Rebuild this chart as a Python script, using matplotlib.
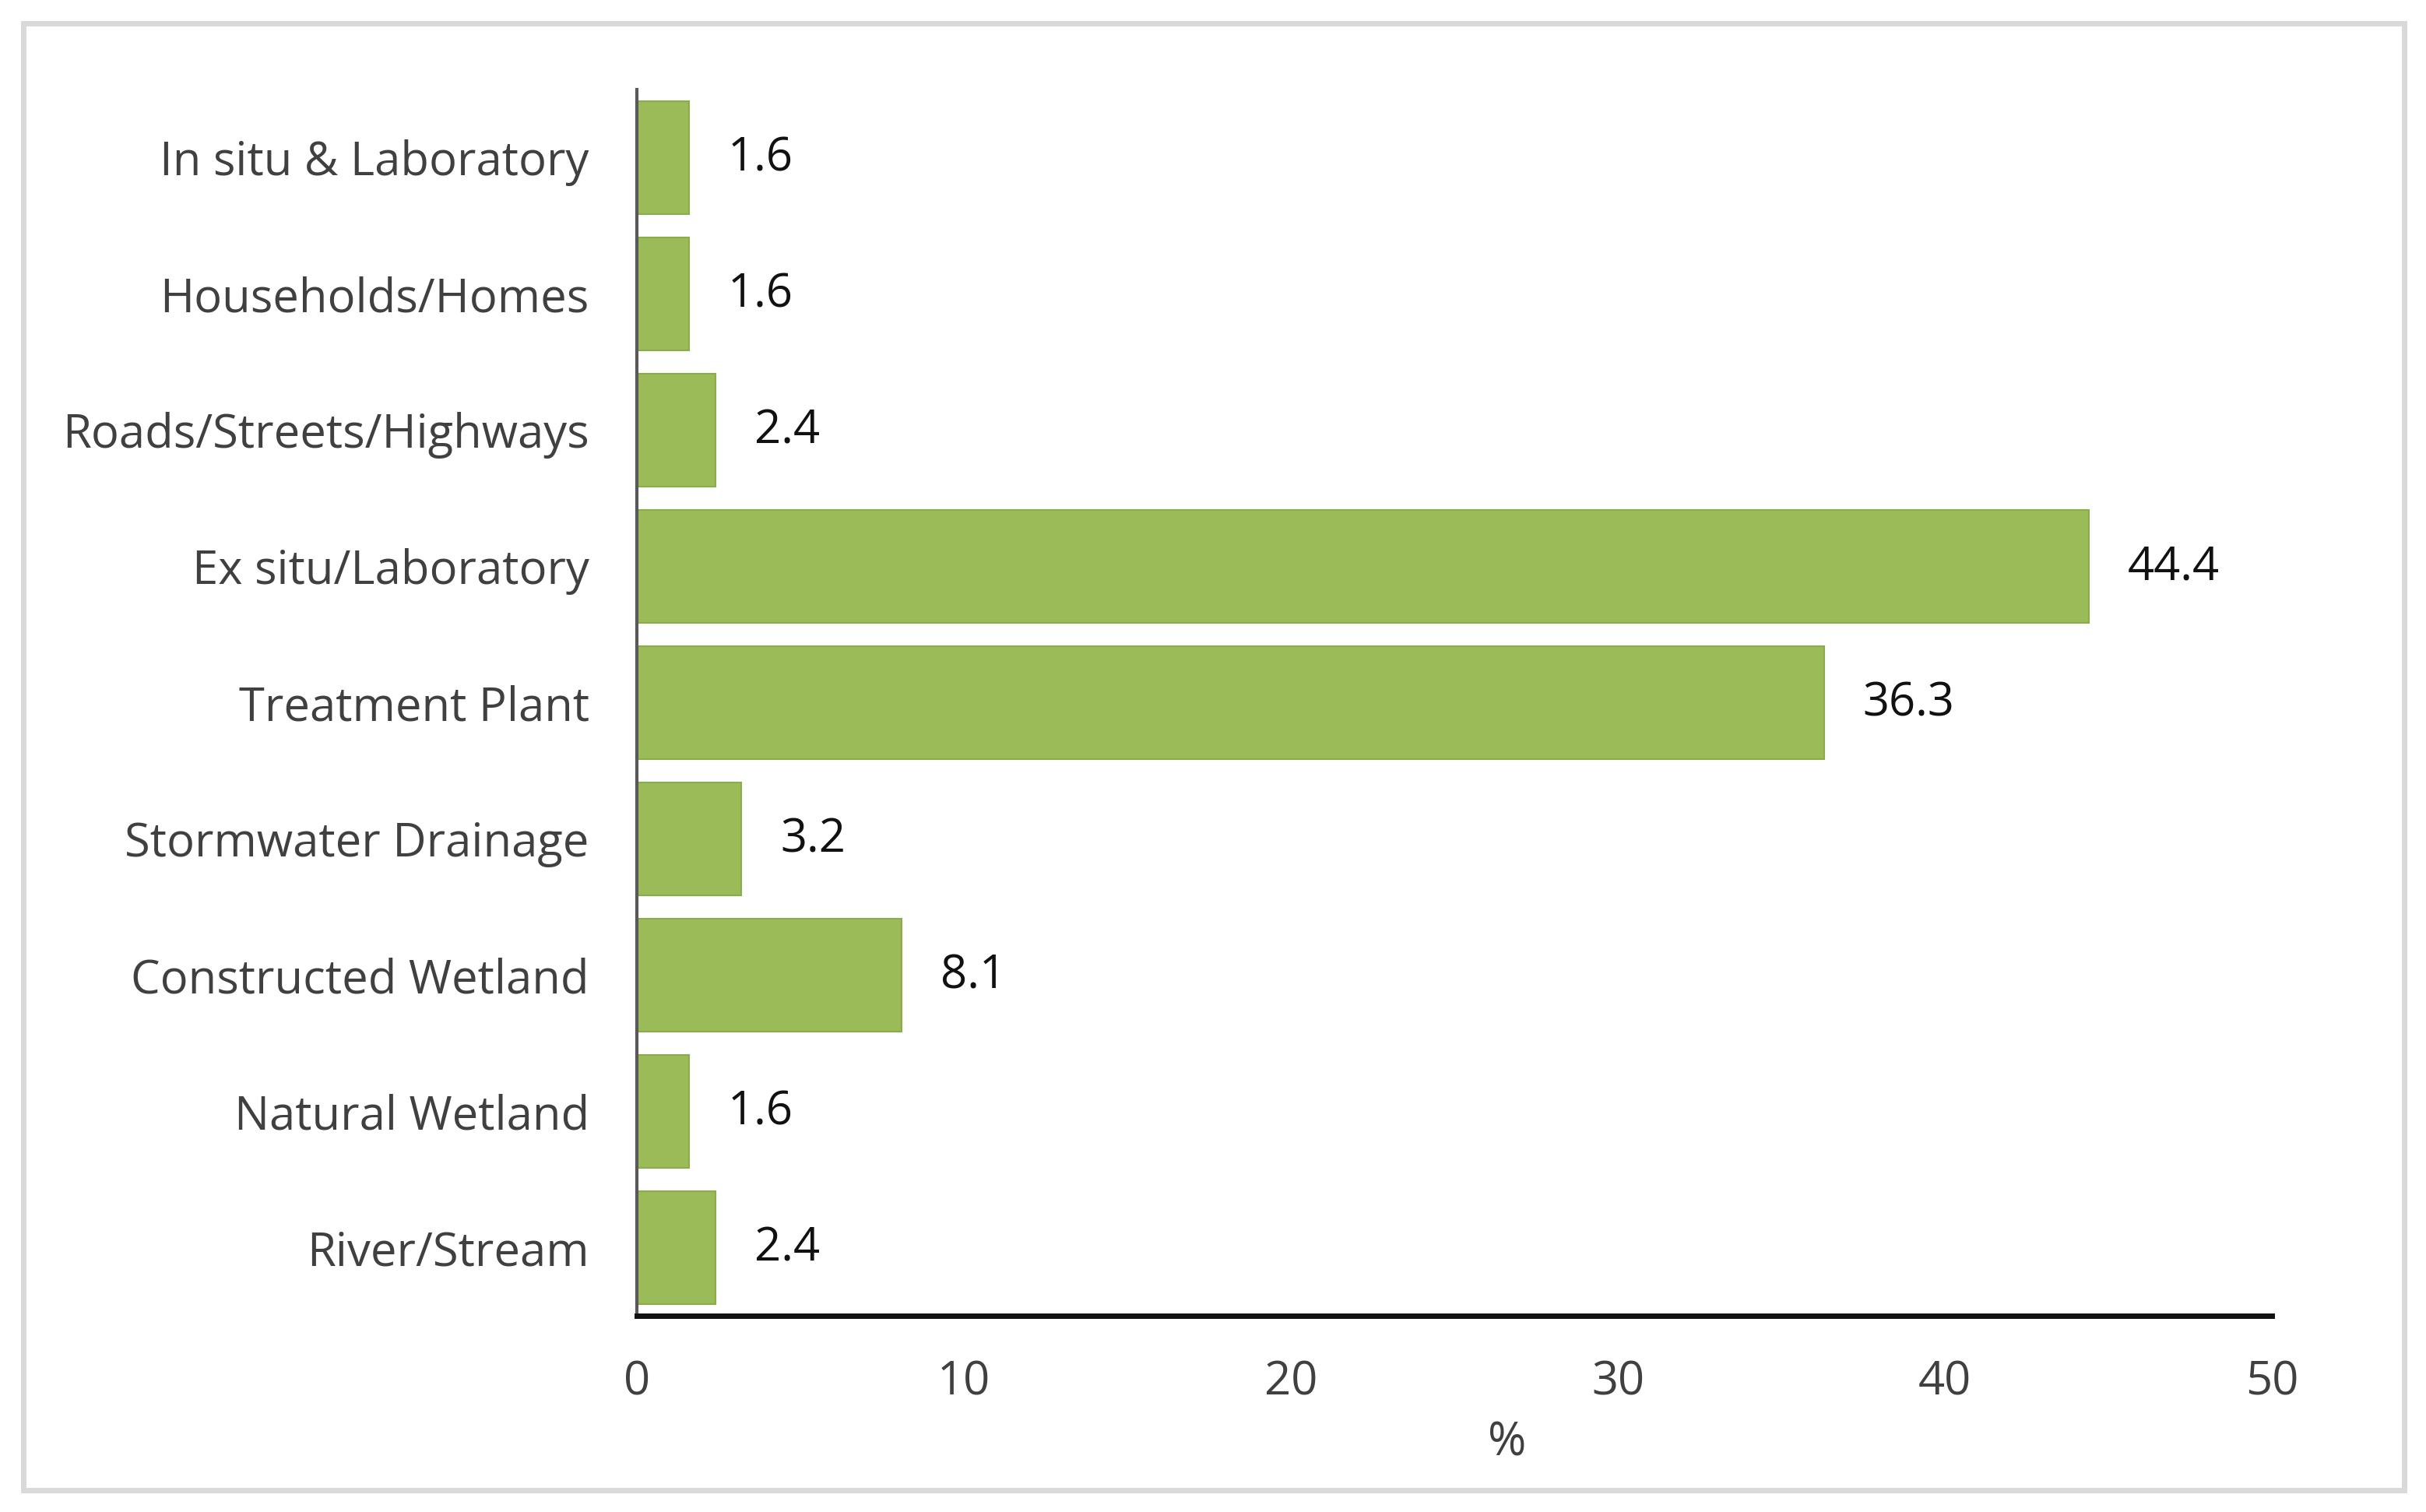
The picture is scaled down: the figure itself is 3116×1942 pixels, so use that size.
import matplotlib
matplotlib.use("Agg")
import matplotlib.pyplot as plt
from matplotlib.patches import Rectangle

plt.rcParams['font.family'] = ['Open Sans', 'DejaVu Sans']

labelsize = 43

categories = ['In situ & Laboratory', 'Households/Homes', 'Roads/Streets/Highways',
              'Ex situ/Laboratory', 'Treatment Plant', 'Stormwater Drainage',
              'Constructed Wetland', 'Natural Wetland', 'River/Stream']
values = [1.6, 1.6, 2.4, 44.4, 36.3, 3.2, 8.1, 1.6, 2.4]
xticks = [0, 10, 20, 30, 40, 50]

fig = plt.figure(figsize=(31.16, 19.42), dpi=100)
ax = fig.add_axes([0.2625, 0.1298, 0.674, 0.811])

# outer frame around the whole chart
fig.patches.append(Rectangle((0.0095, 0.0145), 0.9815, 0.970, transform=fig.transFigure,
                             fill=False, edgecolor='#d9d9d9', linewidth=5))

ypos = list(range(len(categories)))
ax.barh(ypos, values, height=0.83, color='#9bbb59', edgecolor='#8aad4b', linewidth=1.5)

for y, v in zip(ypos, values):
    ax.annotate(f'{v:.1f}', xy=(v, y), xytext=(36, -1), textcoords='offset points',
                va='center', ha='left', fontsize=labelsize, color='#111111')

ax.set_xlim(0, 50)
ax.set_ylim(8.5, -0.5)
ax.set_xticks(xticks)
ax.set_yticks(ypos)
ax.set_yticklabels(categories)
ax.tick_params(axis='both', length=0, labelsize=labelsize, labelcolor='#404040')
ax.tick_params(axis='y', pad=44)
ax.tick_params(axis='x', pad=40)
ax.set_xlabel('%', fontsize=labelsize, color='#404040', labelpad=12)
ax.xaxis.set_label_coords(0.532, -0.085)

for s in ('top', 'right'):
    ax.spines[s].set_visible(False)
ax.spines['left'].set_color('#595959')
ax.spines['left'].set_linewidth(3)
ax.spines['bottom'].set_color('#111111')
ax.spines['bottom'].set_linewidth(5)

fig.savefig('out.png', dpi=100)
